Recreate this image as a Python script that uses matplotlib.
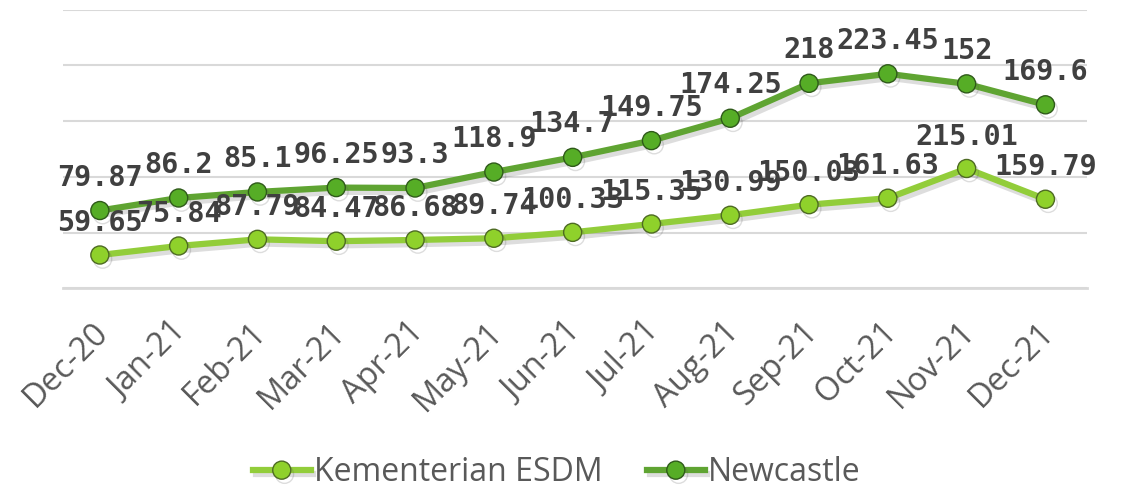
import numpy as np
import matplotlib
matplotlib.use("Agg")
import matplotlib.pyplot as plt
import matplotlib.patheffects as pe
import matplotlib.transforms as mtransforms

months = ['Dec-20', 'Jan-21', 'Feb-21', 'Mar-21', 'Apr-21', 'May-21', 'Jun-21',
          'Jul-21', 'Aug-21', 'Sep-21', 'Oct-21', 'Nov-21', 'Dec-21']
esdm = [59.65, 75.84, 87.79, 84.47, 86.68, 89.74, 100.33,
        115.35, 130.99, 150.03, 161.63, 215.01, 159.79]
newcastle = [79.87, 86.2, 85.1, 96.25, 93.3, 118.9, 134.7,
             149.75, 174.25, 218, 223.45, 152, 169.6]

# stacked line chart: Newcastle drawn on top of ESDM
x = np.arange(len(months))
esdm = np.array(esdm)
stack = esdm + np.array(newcastle)

fig = plt.figure(figsize=(11.22, 4.91), dpi=100)
ax = fig.add_axes([0.056, 0.413, 0.913, 0.567])

shadow = [pe.SimpleLineShadow(offset=(2, -3), shadow_color='#555555', alpha=0.2),
          pe.Normal()]

l1, = ax.plot(x, esdm, '-o', color='#92CD3A', lw=4.5, ms=13,
              mfc='#8FD12B', mec='#4E6B23', mew=1.0, path_effects=shadow,
              label='Kementerian ESDM', zorder=3)
l2, = ax.plot(x, stack, '-o', color='#5FA432', lw=4.5, ms=13,
              mfc='#56AD26', mec='#2F5A1A', mew=1.0, path_effects=shadow,
              label='Newcastle', zorder=3)

lab = dict(textcoords='offset pixels', ha='center', va='center',
           fontsize=20.5, fontweight='bold', family='DejaVu Sans Mono',
           color='#404040', zorder=5)
for i in range(len(x)):
    ax.annotate(f'{esdm[i]:g}', (x[i], esdm[i]), xytext=(0, 32), **lab)
for i in range(len(x)):
    ax.annotate(f'{newcastle[i]:g}', (x[i], stack[i]), xytext=(0, 33), **lab)

ax.set_ylim(0, 500)
ax.set_xlim(-0.47, 12.53)
ax.set_yticks(np.arange(0, 501, 100))
ax.yaxis.grid(True, color='#D9D9D9', lw=1.5)
ax.set_axisbelow(True)
ax.tick_params(axis='y', left=False, labelleft=False)
ax.tick_params(axis='x', length=0, pad=28)
for s in ['top', 'right', 'left']:
    ax.spines[s].set_visible(False)
ax.spines['bottom'].set_color('#D9D9D9')
ax.spines['bottom'].set_linewidth(2)

ax.set_xticks(x)
ax.set_xticklabels(months, rotation=45, ha='right', va='center',
                   rotation_mode='anchor', fontsize=23.5, family='Open Sans',
                   color='#595959')
shift = mtransforms.ScaledTranslation(4 / 100, 0, fig.dpi_scale_trans)
for t in ax.get_xticklabels():
    t.set_transform(t.get_transform() + shift)

fig.legend(handles=[l1, l2], loc='center left', ncol=2, frameon=False,
           bbox_to_anchor=(0.2255, 0.037), prop={'family': 'Open Sans', 'size': 23},
           labelcolor='#595959', handlelength=1.8, columnspacing=1.4,
           handletextpad=0.1, borderpad=0, borderaxespad=0)

fig.savefig('out.png', dpi=100)
